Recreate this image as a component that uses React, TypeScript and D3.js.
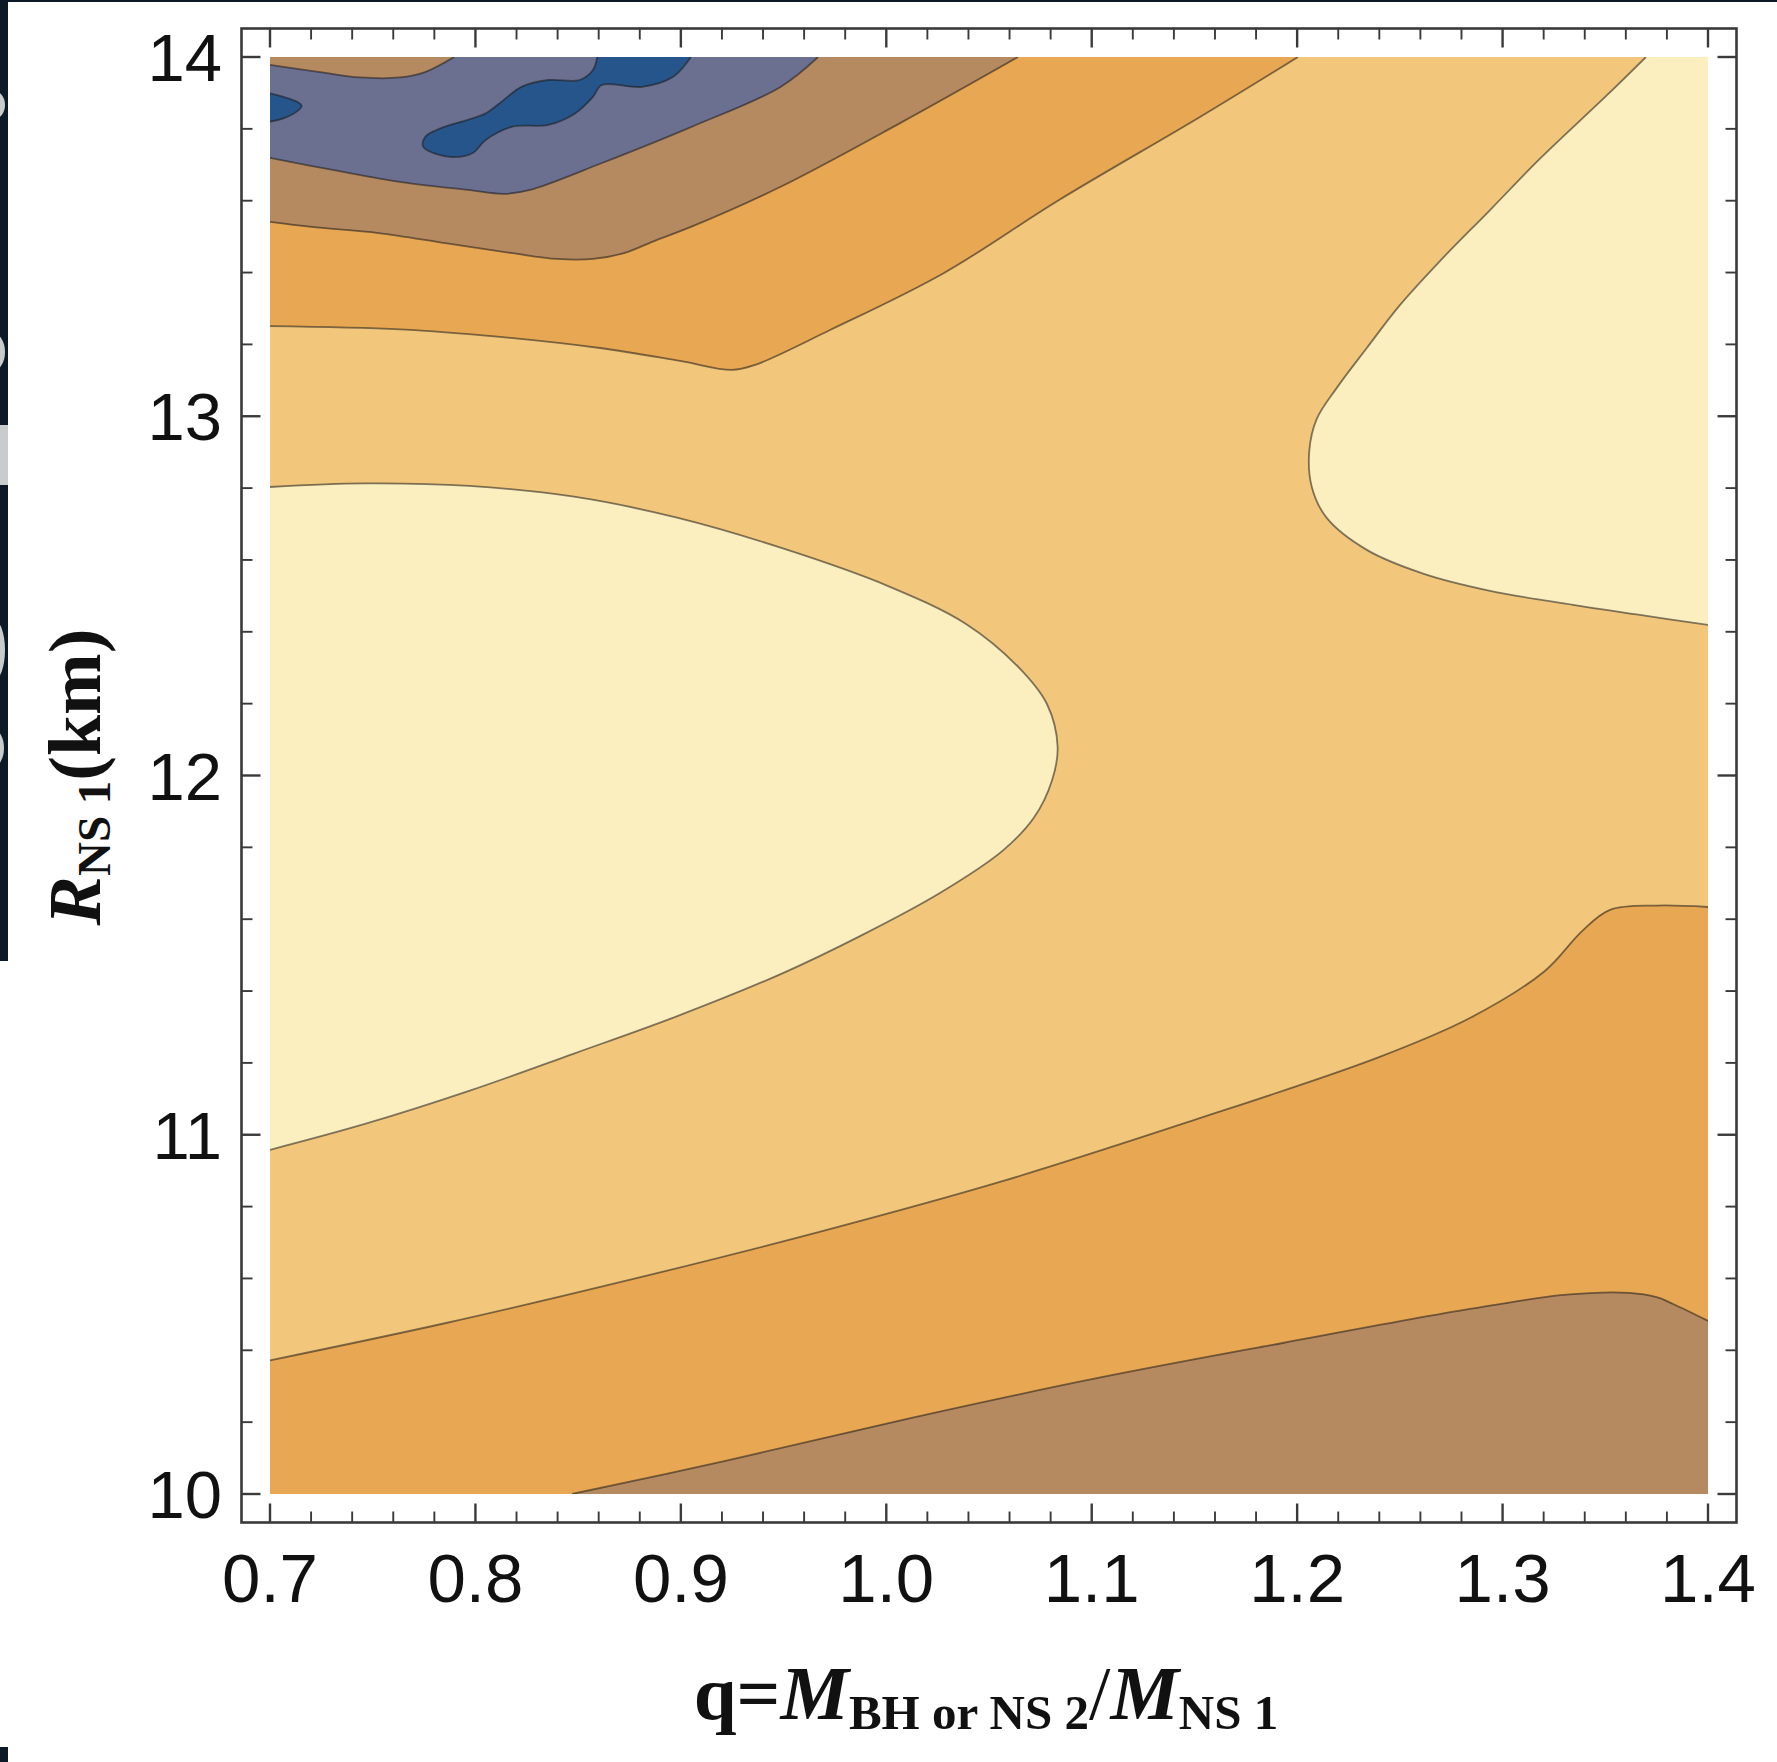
import React from 'react';
import * as d3 from 'd3';

type P = [number, number];

// axis domains and tick labels
const qDomain: P = [0.7, 1.4];
const rDomain: P = [10, 14];
const xTickValues = [0.7, 0.8, 0.9, 1.0, 1.1, 1.2, 1.3, 1.4];
const xTickLabels = ['0.7', '0.8', '0.9', '1.0', '1.1', '1.2', '1.3', '1.4'];
const yTickValues = [10, 11, 12, 13, 14];
const yTickLabels = ['10', '11', '12', '13', '14'];

// contour level colours (low -> high)
const levelColors = ['#25558a', '#6c7090', '#b68a60', '#e8a752', '#f2c77c', '#fbefc0'];

// contour lines, as [q, R]
const topBrownStrip: P[] = [[0.7, 13.978], [0.7243, 13.958], [0.7438, 13.943], [0.7633, 13.943], [0.7755, 13.958], [0.7896, 14.0]];
const slateLower: P[] = [[0.7, 13.719], [0.7312, 13.685], [0.7638, 13.652], [0.7964, 13.63], [0.8139, 13.619], [0.8266, 13.63], [0.8616, 13.705], [0.9049, 13.805], [0.9483, 13.916], [0.9668, 14.0]];
const topBrownLower: P[] = [[0.7, 13.541], [0.7203, 13.527], [0.7529, 13.51], [0.7854, 13.482], [0.818, 13.454], [0.8397, 13.438], [0.8572, 13.438], [0.8723, 13.454], [0.8884, 13.491], [0.9049, 13.527], [0.9483, 13.638], [1.0067, 13.816], [1.0641, 14.0]];
const topOrangeLower: P[] = [[0.7, 13.251], [0.7633, 13.242], [0.812, 13.221], [0.8606, 13.19], [0.8996, 13.154], [0.9249, 13.129], [0.9361, 13.143], [0.9726, 13.24], [1.0281, 13.399], [1.0841, 13.602], [1.1527, 13.833], [1.2004, 14.0]];
const leftYellow: P[] = [[0.7, 12.803], [0.7462, 12.813], [0.7969, 12.806], [0.848, 12.776], [0.8986, 12.717], [0.9497, 12.632], [1.0006, 12.528], [1.0388, 12.422], [1.0641, 12.303], [1.0782, 12.199], [1.0834, 12.08], [1.0807, 11.987], [1.0719, 11.883], [1.0567, 11.791], [1.0261, 11.673], [0.9879, 11.555], [0.9497, 11.45], [0.8986, 11.331], [0.848, 11.226], [0.7969, 11.122], [0.7462, 11.03], [0.7, 10.958]];
const rightYellow: P[] = [[1.3698, 14.0], [1.3507, 13.893], [1.3182, 13.717], [1.2939, 13.574], [1.2695, 13.432], [1.2501, 13.31], [1.2339, 13.19], [1.2193, 13.079], [1.2095, 12.992], [1.2059, 12.903], [1.2071, 12.804], [1.2144, 12.717], [1.2339, 12.628], [1.2613, 12.562], [1.2939, 12.514], [1.3343, 12.475], [1.3669, 12.447], [1.4, 12.419]];
const lowerOrangeUpper: P[] = [[0.7, 10.372], [0.7857, 10.476], [0.8764, 10.598], [0.967, 10.729], [1.0578, 10.873], [1.1483, 11.038], [1.2389, 11.214], [1.2841, 11.325], [1.3206, 11.456], [1.3387, 11.567], [1.3523, 11.626], [1.375, 11.638], [1.4, 11.634]];
const lowerBrownUpper: P[] = [[0.847, 10.0], [0.9217, 10.092], [1.0124, 10.212], [1.1031, 10.323], [1.1936, 10.421], [1.2841, 10.515], [1.3297, 10.554], [1.3614, 10.56], [1.375, 10.548], [1.383, 10.529], [1.4, 10.482]];
const blueBlobLeft: P[] = [[0.7, 13.899], [0.7065, 13.889], [0.713, 13.876], [0.7154, 13.864], [0.713, 13.848], [0.7065, 13.829], [0.7, 13.82]];
const blueBlobMain: P[] = [[0.8593, 14.0], [0.8572, 13.964], [0.8507, 13.936], [0.8354, 13.936], [0.8224, 13.917], [0.8137, 13.88], [0.805, 13.843], [0.7963, 13.825], [0.7832, 13.802], [0.7756, 13.778], [0.7746, 13.75], [0.7876, 13.722], [0.7985, 13.732], [0.805, 13.769], [0.818, 13.806], [0.8354, 13.811], [0.8485, 13.843], [0.8572, 13.889], [0.8615, 13.922], [0.8811, 13.917], [0.8963, 13.945], [0.9049, 14.0]];

// filled layers: contour + corner points that close it, colour level
const layers: { pts: P[]; close: P[]; level: number }[] = [
  { pts: leftYellow, close: [], level: 5 },
  { pts: rightYellow, close: [[1.4, 14]], level: 5 },
  { pts: lowerOrangeUpper, close: [[1.4, 10], [0.7, 10]], level: 3 },
  { pts: lowerBrownUpper, close: [[1.4, 10]], level: 2 },
  { pts: topOrangeLower, close: [[0.7, 14]], level: 3 },
  { pts: topBrownLower, close: [[0.7, 14]], level: 2 },
  { pts: slateLower, close: [[0.7, 14]], level: 1 },
  { pts: topBrownStrip, close: [[0.7, 14]], level: 2 },
  { pts: blueBlobLeft, close: [], level: 0 },
  { pts: blueBlobMain, close: [], level: 0 },
];

const W = 1777;
const H = 1762;

export default function App() {
  const x = d3.scaleLinear().domain(qDomain).range([270, 1708]);
  const y = d3.scaleLinear().domain(rDomain).range([1494, 57]);
  const pad = 28.5;
  const fL = x(qDomain[0]) - pad;
  const fR = x(qDomain[1]) + pad;
  const fT = y(rDomain[1]) - pad;
  const fB = y(rDomain[0]) + pad;

  const line = d3
    .line<P>()
    .x((d) => x(d[0]))
    .y((d) => y(d[1]))
    .curve(d3.curveCatmullRom.alpha(0.5));

  const fillPath = (pts: P[], close: P[]) =>
    (line(pts) || '') + close.map((c) => `L${x(c[0])},${y(c[1])}`).join('') + 'Z';

  const xMinor = d3.range(0, 36).map((i) => ({ v: 0.7 + i * 0.02, major: i % 5 === 0 }));
  const yMinor = d3.range(0, 21).map((i) => ({ v: 10 + i * 0.2, major: i % 5 === 0 }));
  const majLen = 19;
  const minLen = 11;
  const tickCol = '#3a3a3a';

  const serif = '"Liberation Serif", "Times New Roman", Times, serif';
  const sans = '"Liberation Sans", Arial, Helvetica, sans-serif';

  return (
    <svg width={W} height={H} style={{ position: 'absolute', left: 0, top: 0, background: '#fff' }}>
      <rect x={0} y={0} width={W} height={H} fill="#ffffff" />
      {/* cropped neighbour artefacts on the left edge */}
      <rect x={0} y={0} width={W} height={2} fill="#0b1a26" />
      <rect x={0} y={0} width={8} height={961} fill="#0b1a26" />
      <rect x={0} y={425} width={8} height={60} fill="#c9cccc" />
      <ellipse cx={-6} cy={105} rx={11} ry={14} fill="#c9cccc" />
      <ellipse cx={-6} cy={352} rx={11} ry={18} fill="#c9cccc" />
      <ellipse cx={-6} cy={650} rx={11} ry={30} fill="#c9cccc" />
      <ellipse cx={-6} cy={748} rx={10} ry={18} fill="#c9cccc" />
      <rect x={0} y={1747} width={8} height={15} fill="#0b1a26" />

      <defs>
        <clipPath id="plotClip">
          <rect x={x(qDomain[0])} y={y(rDomain[1])} width={x(qDomain[1]) - x(qDomain[0])} height={y(rDomain[0]) - y(rDomain[1])} />
        </clipPath>
      </defs>

      <g clipPath="url(#plotClip)">
        <rect
          x={x(qDomain[0])}
          y={y(rDomain[1])}
          width={x(qDomain[1]) - x(qDomain[0])}
          height={y(rDomain[0]) - y(rDomain[1])}
          fill={levelColors[4]}
        />
        {layers.map((l, i) => (
          <path key={'f' + i} d={fillPath(l.pts, l.close)} fill={levelColors[l.level]} />
        ))}
        {layers.map((l, i) => (
          <path key={'s' + i} d={line(l.pts) || ''} fill="none" stroke="#1a1a1a" strokeOpacity={0.55} strokeWidth={1.8} />
        ))}
      </g>

      {/* frame */}
      <rect x={fL} y={fT} width={fR - fL} height={fB - fT} fill="none" stroke="#3a3a3a" strokeWidth={2.6} />

      {/* x ticks bottom & top */}
      {xMinor.map((t, i) => {
        const px = x(t.v);
        const len = t.major ? majLen : minLen;
        const sw = t.major ? 2.4 : 1.9;
        return (
          <g key={'xt' + i} stroke={tickCol} strokeWidth={sw}>
            <line x1={px} x2={px} y1={fB} y2={fB - len} />
            <line x1={px} x2={px} y1={fT} y2={fT + len} />
          </g>
        );
      })}
      {/* y ticks left & right */}
      {yMinor.map((t, i) => {
        const py = y(t.v);
        const len = t.major ? majLen : minLen;
        const sw = t.major ? 2.4 : 1.9;
        return (
          <g key={'yt' + i} stroke={tickCol} strokeWidth={sw}>
            <line x1={fL} x2={fL + len} y1={py} y2={py} />
            <line x1={fR} x2={fR - len} y1={py} y2={py} />
          </g>
        );
      })}

      {/* tick labels */}
      {xTickValues.map((v, i) => (
        <text key={'xl' + i} x={x(v)} y={1602} textAnchor="middle" fontFamily={sans} fontSize={69} fill="#111">
          {xTickLabels[i]}
        </text>
      ))}
      {yTickValues.map((v, i) => (
        <text key={'yl' + i} x={222} y={y(v) + 24} textAnchor="end" fontFamily={sans} fontSize={67} fill="#111">
          {yTickLabels[i]}
        </text>
      ))}

      {/* x title */}
      <text x={986} y={1719} textAnchor="middle" fontFamily={serif} fontWeight="bold" fontSize={77} fill="#111">
        <tspan>q=</tspan>
        <tspan fontStyle="italic">M</tspan>
        <tspan fontSize={49} dy={10}>BH or NS 2</tspan>
        <tspan fontWeight="normal" dy={-10}>/</tspan>
        <tspan fontStyle="italic">M</tspan>
        <tspan fontSize={49} dy={10}>NS 1</tspan>
      </text>

      {/* y title */}
      <text
        transform="translate(100,777) rotate(-90)"
        textAnchor="middle"
        fontFamily={serif}
        fontWeight="bold"
        fontSize={74}
        fill="#111"
      >
        <tspan fontStyle="italic">R</tspan>
        <tspan fontSize={47} dy={10}>NS 1</tspan>
        <tspan dy={-10}>(km)</tspan>
      </text>
    </svg>
  );
}
